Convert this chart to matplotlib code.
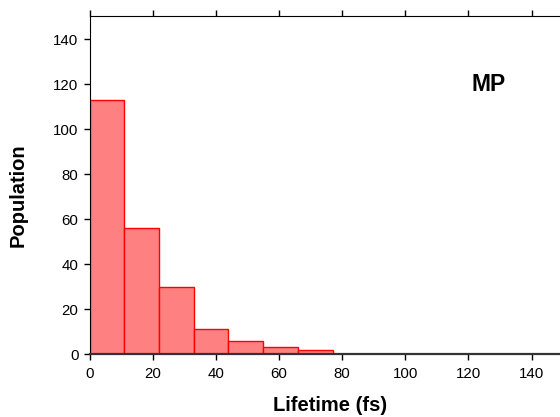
import numpy as np
import matplotlib.pyplot as plt

plt.rcParams['font.family'] = ['Liberation Sans', 'DejaVu Sans']

# lifetime histogram, 11 fs bins
bin_edges = [0, 11, 22, 33, 44, 55, 66, 77]
counts = [113, 56, 30, 11, 6, 3, 2]
x_ticks = [0, 20, 40, 60, 80, 100, 120, 140]
y_ticks = [0, 20, 40, 60, 80, 100, 120, 140]

fig = plt.figure(figsize=(5.6, 4.17), dpi=100)
ax = fig.add_axes([89.5/560, 1 - 354/417, 1 - 89.5/560, (354 - 16)/417])

ax.bar(bin_edges[:-1], counts, width=np.diff(bin_edges), align='edge',
       color='#ff8080', edgecolor='#ff0000', linewidth=1.0, zorder=2)

ax.set_xlim(1, 149)
ax.set_ylim(0, 150.4)
ax.set_xticks(x_ticks)
ax.set_yticks(y_ticks)
ax.tick_params(axis='both', labelsize=10.8, length=4, width=1, pad=4, direction='out')
ax.tick_params(axis='x', top=True, pad=5)
ax.spines['right'].set_visible(False)
ax.spines['bottom'].set_color('#333333')
ax.spines['bottom'].set_linewidth(1.6)

ax.set_xlabel('Lifetime (fs)', fontsize=14.5, fontweight='bold')
ax.set_ylabel('Population', fontsize=14.5, fontweight='bold')
ax.xaxis.set_label_coords(0.511, -0.124)
ax.yaxis.set_label_coords(-0.131, 0.47)

ax.text(0.848, 0.796, 'MP', transform=ax.transAxes, ha='center', va='center',
        fontsize=16.5, fontweight='bold')

fig.savefig('out.png', dpi=100)
